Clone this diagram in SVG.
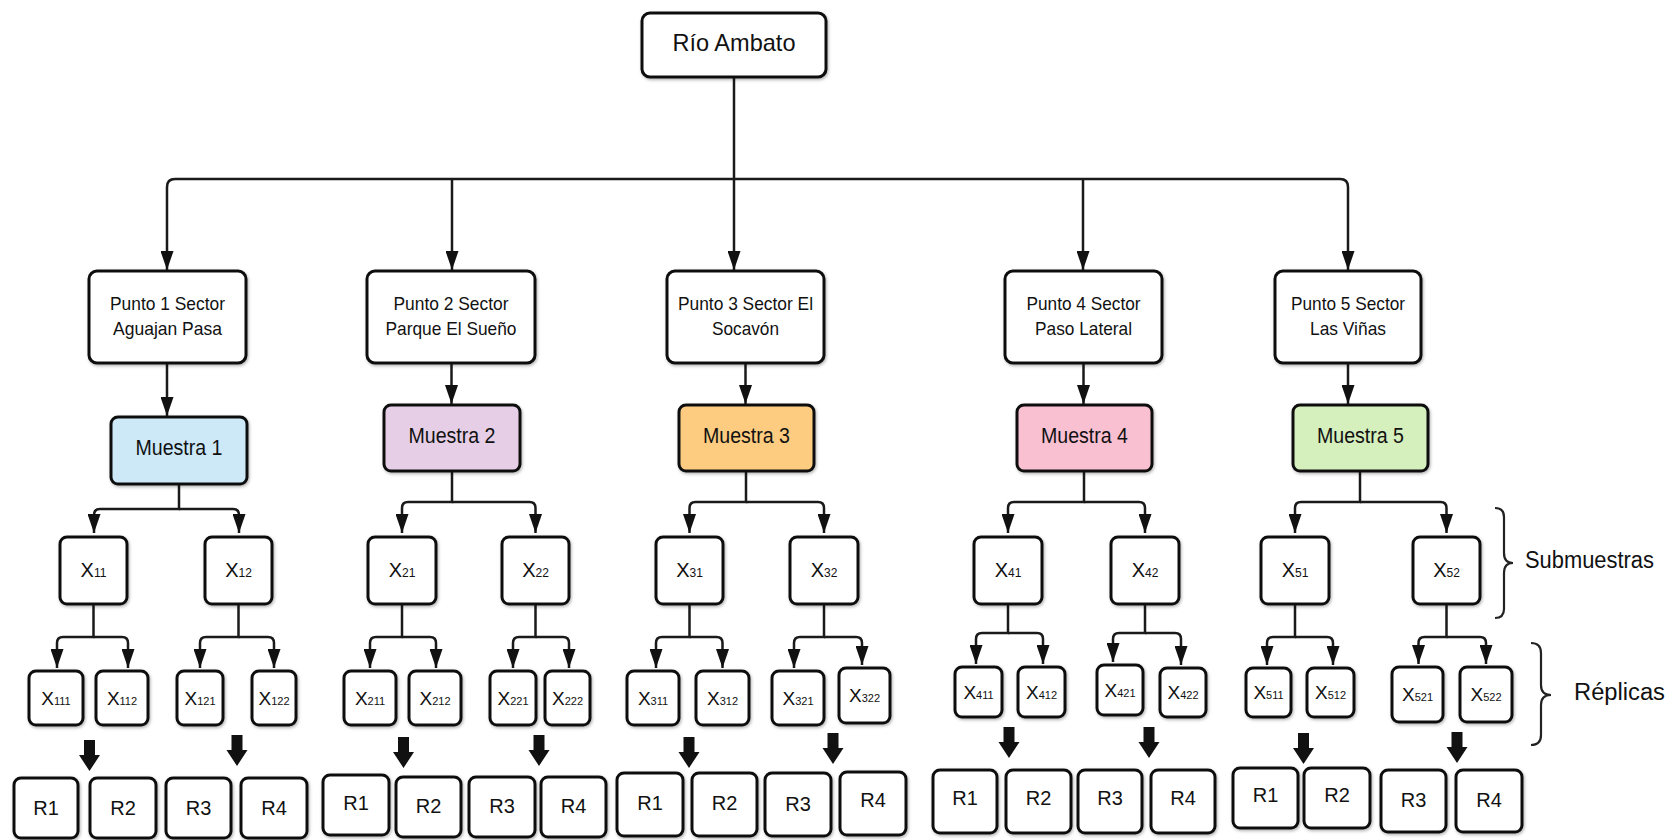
<svg xmlns="http://www.w3.org/2000/svg" xmlns:xlink="http://www.w3.org/1999/xlink" width="1675" height="840" viewBox="0 0 1675 840">
<style>
text{font-family:"Liberation Sans",Arial,sans-serif;fill:#111;text-anchor:middle}
.box{fill:#fff;stroke:#111;stroke-width:3;filter:url(#sh)}
.t1{font-size:24px}
.tp{font-size:19px}
.tm{font-size:22px}
.tx{font-size:20px}
.tr{font-size:19px}
.tR{font-size:20px}
.sub{font-size:12px}
.sub2{font-size:11px}
.lbl{font-size:23px;text-anchor:start}
.con path{fill:none;stroke:#1a1a1a;stroke-width:2.5;marker-end:url(#ah)}
.brace{fill:none;stroke:#222;stroke-width:2.2}
.blk{fill:#111}
</style>
<defs>
<filter id="sh" x="-10%" y="-10%" width="130%" height="130%">
<feDropShadow dx="1" dy="1.5" stdDeviation="1.5" flood-color="#000" flood-opacity="0.3"/>
</filter>
<marker id="ah" markerUnits="userSpaceOnUse" viewBox="0 0 19 13" markerWidth="19" markerHeight="13" refX="19" refY="6.5" orient="auto">
<path d="M0,0 L19,6.5 L0,13 Z" fill="#111"/>
</marker>
<path id="blk" d="M-5.5,0 H5.5 V15 H10.5 L0,31 L-10.5,15 H-5.5 Z"/>
</defs>
<rect width="1675" height="840" fill="#fff"/>

<g class="con" id="connectors">
<path d="M734 77 V270"/>
<path d="M734 179 H175 Q167 179 167 187 V270"/>
<path d="M452 179 V270"/>
<path d="M734 179 H1340 Q1348 179 1348 187 V270"/>
<path d="M1083 179 V270"/>
<path d="M167 363 V416"/>
<path d="M451.5 363 V404"/>
<path d="M745.5 363 V404"/>
<path d="M1083.5 363 V404"/>
<path d="M1348 363 V404"/>
<path d="M179 484 V509 H100 Q94 509 94 515 V533"/>
<path d="M179 509 H233 Q239 509 239 515 V533"/>
<path d="M452 471 V502 H408 Q402 502 402 508 V533"/>
<path d="M452 502 H529.5 Q535.5 502 535.5 508 V533"/>
<path d="M746 471 V502 H695.5 Q689.5 502 689.5 508 V533"/>
<path d="M746 502 H818 Q824 502 824 508 V533"/>
<path d="M1084 471 V502 H1014 Q1008 502 1008 508 V533"/>
<path d="M1084 502 H1139 Q1145 502 1145 508 V533"/>
<path d="M1360 471 V502 H1301 Q1295 502 1295 508 V533"/>
<path d="M1360 502 H1440.5 Q1446.5 502 1446.5 508 V533"/>
<path d="M93.5 604 V637 H63 Q57 637 57 643 V668"/>
<path d="M93.5 637 H122 Q128 637 128 643 V668"/>
<path d="M238.5 604 V637 H206 Q200 637 200 643 V668"/>
<path d="M238.5 637 H268 Q274 637 274 643 V668"/>
<path d="M402 604 V637 H376 Q370 637 370 643 V668"/>
<path d="M402 637 H430 Q436 637 436 643 V668"/>
<path d="M535.5 604 V637 H519 Q513 637 513 643 V668"/>
<path d="M535.5 637 H563 Q569 637 569 643 V668"/>
<path d="M689.5 604 V637 H662 Q656 637 656 643 V668"/>
<path d="M689.5 637 H716.5 Q722.5 637 722.5 643 V668"/>
<path d="M824 604 V637 H800 Q794 637 794 643 V668"/>
<path d="M824 637 H856 Q862 637 862 643 V665"/>
<path d="M1008 604 V633 H982 Q976 633 976 639 V664"/>
<path d="M1008 633 H1037 Q1043 633 1043 639 V664"/>
<path d="M1145 604 V633 H1119 Q1113 633 1113 639 V662"/>
<path d="M1145 633 H1175 Q1181 633 1181 639 V665"/>
<path d="M1295 604 V637 H1273 Q1267 637 1267 643 V665"/>
<path d="M1295 637 H1327 Q1333 637 1333 643 V665"/>
<path d="M1446.5 604 V637 H1424.5 Q1418.5 637 1418.5 643 V664"/>
<path d="M1446.5 637 H1480 Q1486 637 1486 643 V664"/>
</g>

<g id="block-arrows" class="blk">
<use xlink:href="#blk" transform="translate(89.5,740)"/>
<use xlink:href="#blk" transform="translate(237,735)"/>
<use xlink:href="#blk" transform="translate(403.5,737)"/>
<use xlink:href="#blk" transform="translate(539,735)"/>
<use xlink:href="#blk" transform="translate(689,737)"/>
<use xlink:href="#blk" transform="translate(833,733)"/>
<use xlink:href="#blk" transform="translate(1009,727)"/>
<use xlink:href="#blk" transform="translate(1149,727)"/>
<use xlink:href="#blk" transform="translate(1303.5,733)"/>
<use xlink:href="#blk" transform="translate(1457,732)"/>
</g>

<g id="rio-ambato"><rect class="box" x="642" y="13" width="184" height="64" rx="8"/><text class="t1" x="734" y="51" textLength="123" lengthAdjust="spacingAndGlyphs">Río Ambato</text></g>

<g id="punto1"><rect class="box" x="89" y="271" width="157" height="92" rx="8"/><text class="tp" x="167.5" y="310" textLength="115" lengthAdjust="spacingAndGlyphs">Punto 1 Sector</text><text class="tp" x="167.5" y="335" textLength="109" lengthAdjust="spacingAndGlyphs">Aguajan Pasa</text></g>
<g id="punto2"><rect class="box" x="367" y="271" width="168" height="92" rx="8"/><text class="tp" x="451" y="310" textLength="115" lengthAdjust="spacingAndGlyphs">Punto 2 Sector</text><text class="tp" x="451" y="335" textLength="131" lengthAdjust="spacingAndGlyphs">Parque El Sueño</text></g>
<g id="punto3"><rect class="box" x="667" y="271" width="157" height="92" rx="8"/><text class="tp" x="745.5" y="310" textLength="135" lengthAdjust="spacingAndGlyphs">Punto 3 Sector El</text><text class="tp" x="745.5" y="335" textLength="67" lengthAdjust="spacingAndGlyphs">Socavón</text></g>
<g id="punto4"><rect class="box" x="1005" y="271" width="157" height="92" rx="8"/><text class="tp" x="1083.5" y="310" textLength="114" lengthAdjust="spacingAndGlyphs">Punto 4 Sector</text><text class="tp" x="1083.5" y="335" textLength="97" lengthAdjust="spacingAndGlyphs">Paso Lateral</text></g>
<g id="punto5"><rect class="box" x="1275" y="271" width="146" height="92" rx="8"/><text class="tp" x="1348" y="310" textLength="114" lengthAdjust="spacingAndGlyphs">Punto 5 Sector</text><text class="tp" x="1348" y="335" textLength="76" lengthAdjust="spacingAndGlyphs">Las Viñas</text></g>

<g id="muestra1"><rect class="box" x="111" y="417" width="136" height="67" rx="7" style="fill:#cde9f8"/><text class="tm" x="179" y="455" textLength="87" lengthAdjust="spacingAndGlyphs">Muestra 1</text></g>
<g id="muestra2"><rect class="box" x="384" y="405" width="136" height="66" rx="7" style="fill:#e6cfe6"/><text class="tm" x="452" y="443" textLength="87" lengthAdjust="spacingAndGlyphs">Muestra 2</text></g>
<g id="muestra3"><rect class="box" x="679" y="405" width="135" height="66" rx="7" style="fill:#fdcc80"/><text class="tm" x="746.5" y="443" textLength="87" lengthAdjust="spacingAndGlyphs">Muestra 3</text></g>
<g id="muestra4"><rect class="box" x="1017" y="405" width="135" height="66" rx="7" style="fill:#f9c0d2"/><text class="tm" x="1084.5" y="443" textLength="87" lengthAdjust="spacingAndGlyphs">Muestra 4</text></g>
<g id="muestra5"><rect class="box" x="1293" y="405" width="135" height="66" rx="7" style="fill:#d5efbd"/><text class="tm" x="1360.5" y="443" textLength="87" lengthAdjust="spacingAndGlyphs">Muestra 5</text></g>

<g id="x11"><rect class="box" x="60" y="537" width="67" height="67" rx="7"/><text class="tx" x="93.5" y="577">X<tspan class="sub">11</tspan></text></g>
<g id="x12"><rect class="box" x="205" y="537" width="67" height="67" rx="7"/><text class="tx" x="238.5" y="577">X<tspan class="sub">12</tspan></text></g>
<g id="x21"><rect class="box" x="368" y="537" width="68" height="67" rx="7"/><text class="tx" x="402" y="577">X<tspan class="sub">21</tspan></text></g>
<g id="x22"><rect class="box" x="502" y="537" width="67" height="67" rx="7"/><text class="tx" x="535.5" y="577">X<tspan class="sub">22</tspan></text></g>
<g id="x31"><rect class="box" x="656" y="537" width="67" height="67" rx="7"/><text class="tx" x="689.5" y="577">X<tspan class="sub">31</tspan></text></g>
<g id="x32"><rect class="box" x="790" y="537" width="68" height="67" rx="7"/><text class="tx" x="824" y="577">X<tspan class="sub">32</tspan></text></g>
<g id="x41"><rect class="box" x="974" y="537" width="68" height="67" rx="7"/><text class="tx" x="1008" y="577">X<tspan class="sub">41</tspan></text></g>
<g id="x42"><rect class="box" x="1111" y="537" width="68" height="67" rx="7"/><text class="tx" x="1145" y="577">X<tspan class="sub">42</tspan></text></g>
<g id="x51"><rect class="box" x="1261" y="537" width="68" height="67" rx="7"/><text class="tx" x="1295" y="577">X<tspan class="sub">51</tspan></text></g>
<g id="x52"><rect class="box" x="1413" y="537" width="67" height="67" rx="7"/><text class="tx" x="1446.5" y="577">X<tspan class="sub">52</tspan></text></g>

<g id="x111"><rect class="box" x="29" y="671" width="54" height="54" rx="7"/><text class="tr" x="56" y="705">X<tspan class="sub2">111</tspan></text></g>
<g id="x112"><rect class="box" x="96" y="671" width="52" height="54" rx="7"/><text class="tr" x="122" y="705">X<tspan class="sub2">112</tspan></text></g>
<g id="x121"><rect class="box" x="177" y="671" width="46" height="54" rx="7"/><text class="tr" x="200" y="705">X<tspan class="sub2">121</tspan></text></g>
<g id="x122"><rect class="box" x="252" y="671" width="44" height="54" rx="7"/><text class="tr" x="274" y="705">X<tspan class="sub2">122</tspan></text></g>
<g id="x211"><rect class="box" x="344" y="671" width="52" height="54" rx="7"/><text class="tr" x="370" y="705">X<tspan class="sub2">211</tspan></text></g>
<g id="x212"><rect class="box" x="409" y="671" width="52" height="54" rx="7"/><text class="tr" x="435" y="705">X<tspan class="sub2">212</tspan></text></g>
<g id="x221"><rect class="box" x="490" y="671" width="46" height="54" rx="7"/><text class="tr" x="513" y="705">X<tspan class="sub2">221</tspan></text></g>
<g id="x222"><rect class="box" x="545" y="671" width="45" height="54" rx="7"/><text class="tr" x="567.5" y="705">X<tspan class="sub2">222</tspan></text></g>
<g id="x311"><rect class="box" x="627" y="671" width="52" height="54" rx="7"/><text class="tr" x="653" y="705">X<tspan class="sub2">311</tspan></text></g>
<g id="x312"><rect class="box" x="696" y="671" width="53" height="54" rx="7"/><text class="tr" x="722.5" y="705">X<tspan class="sub2">312</tspan></text></g>
<g id="x321"><rect class="box" x="772" y="671" width="52" height="54" rx="7"/><text class="tr" x="798" y="705">X<tspan class="sub2">321</tspan></text></g>
<g id="x322"><rect class="box" x="839" y="668" width="51" height="55" rx="7"/><text class="tr" x="864.5" y="702">X<tspan class="sub2">322</tspan></text></g>
<g id="x411"><rect class="box" x="955" y="667" width="47" height="50" rx="7"/><text class="tr" x="978.5" y="699">X<tspan class="sub2">411</tspan></text></g>
<g id="x412"><rect class="box" x="1018" y="667" width="47" height="50" rx="7"/><text class="tr" x="1041.5" y="699">X<tspan class="sub2">412</tspan></text></g>
<g id="x421"><rect class="box" x="1097" y="665" width="46" height="50" rx="7"/><text class="tr" x="1120" y="697">X<tspan class="sub2">421</tspan></text></g>
<g id="x422"><rect class="box" x="1160" y="668" width="46" height="49" rx="7"/><text class="tr" x="1183" y="699">X<tspan class="sub2">422</tspan></text></g>
<g id="x511"><rect class="box" x="1246" y="668" width="45" height="49" rx="7"/><text class="tr" x="1268.5" y="699">X<tspan class="sub2">511</tspan></text></g>
<g id="x512"><rect class="box" x="1307" y="668" width="47" height="49" rx="7"/><text class="tr" x="1330.5" y="699">X<tspan class="sub2">512</tspan></text></g>
<g id="x521"><rect class="box" x="1392" y="667" width="51" height="55" rx="7"/><text class="tr" x="1417.5" y="701">X<tspan class="sub2">521</tspan></text></g>
<g id="x522"><rect class="box" x="1460" y="667" width="52" height="55" rx="7"/><text class="tr" x="1486" y="701">X<tspan class="sub2">522</tspan></text></g>

<g id="r-g1">
<rect class="box" x="14" y="778" width="64" height="60" rx="7"/><text class="tR" x="46" y="815">R1</text>
<rect class="box" x="90" y="778" width="66" height="60" rx="7"/><text class="tR" x="123" y="815">R2</text>
<rect class="box" x="166" y="778" width="65" height="60" rx="7"/><text class="tR" x="198.5" y="815">R3</text>
<rect class="box" x="241" y="778" width="66" height="60" rx="7"/><text class="tR" x="274" y="815">R4</text>
</g>
<g id="r-g2">
<rect class="box" x="323" y="775" width="66" height="60" rx="7"/><text class="tR" x="356" y="810">R1</text>
<rect class="box" x="396" y="777" width="65" height="60" rx="7"/><text class="tR" x="428.5" y="813">R2</text>
<rect class="box" x="469" y="777" width="66" height="60" rx="7"/><text class="tR" x="502" y="813">R3</text>
<rect class="box" x="541" y="777" width="65" height="60" rx="7"/><text class="tR" x="573.5" y="813">R4</text>
</g>
<g id="r-g3">
<rect class="box" x="617" y="773" width="66" height="63" rx="7"/><text class="tR" x="650" y="810">R1</text>
<rect class="box" x="692" y="773" width="65" height="63" rx="7"/><text class="tR" x="724.5" y="810">R2</text>
<rect class="box" x="765" y="773" width="66" height="63" rx="7"/><text class="tR" x="798" y="811">R3</text>
<rect class="box" x="840" y="772" width="66" height="63" rx="7"/><text class="tR" x="873" y="807">R4</text>
</g>
<g id="r-g4">
<rect class="box" x="933" y="770" width="64" height="63" rx="7"/><text class="tR" x="965" y="805">R1</text>
<rect class="box" x="1006" y="770" width="65" height="63" rx="7"/><text class="tR" x="1038.5" y="805">R2</text>
<rect class="box" x="1078" y="770" width="64" height="63" rx="7"/><text class="tR" x="1110" y="805">R3</text>
<rect class="box" x="1151" y="770" width="64" height="63" rx="7"/><text class="tR" x="1183" y="805">R4</text>
</g>
<g id="r-g5">
<rect class="box" x="1233" y="768" width="65" height="60" rx="7"/><text class="tR" x="1265.5" y="802">R1</text>
<rect class="box" x="1304" y="768" width="66" height="60" rx="7"/><text class="tR" x="1337" y="802">R2</text>
<rect class="box" x="1381" y="770" width="65" height="62" rx="7"/><text class="tR" x="1413.5" y="807">R3</text>
<rect class="box" x="1456" y="770" width="66" height="62" rx="7"/><text class="tR" x="1489" y="807">R4</text>
</g>

<g id="submuestras">
<path class="brace" d="M1495 508 Q1504 508 1504 517 V553 Q1504 563 1513 563 Q1504 563 1504 573 V609 Q1504 618 1495 618"/>
<text class="lbl" x="1525" y="568" textLength="129" lengthAdjust="spacingAndGlyphs">Submuestras</text>
</g>
<g id="replicas">
<path class="brace" d="M1531 643 Q1541 643 1541 653 V685 Q1541 695 1551 695 Q1541 695 1541 705 V735 Q1541 745 1531 745"/>
<text class="lbl" x="1574" y="700" textLength="91" lengthAdjust="spacingAndGlyphs">Réplicas</text>
</g>
</svg>
